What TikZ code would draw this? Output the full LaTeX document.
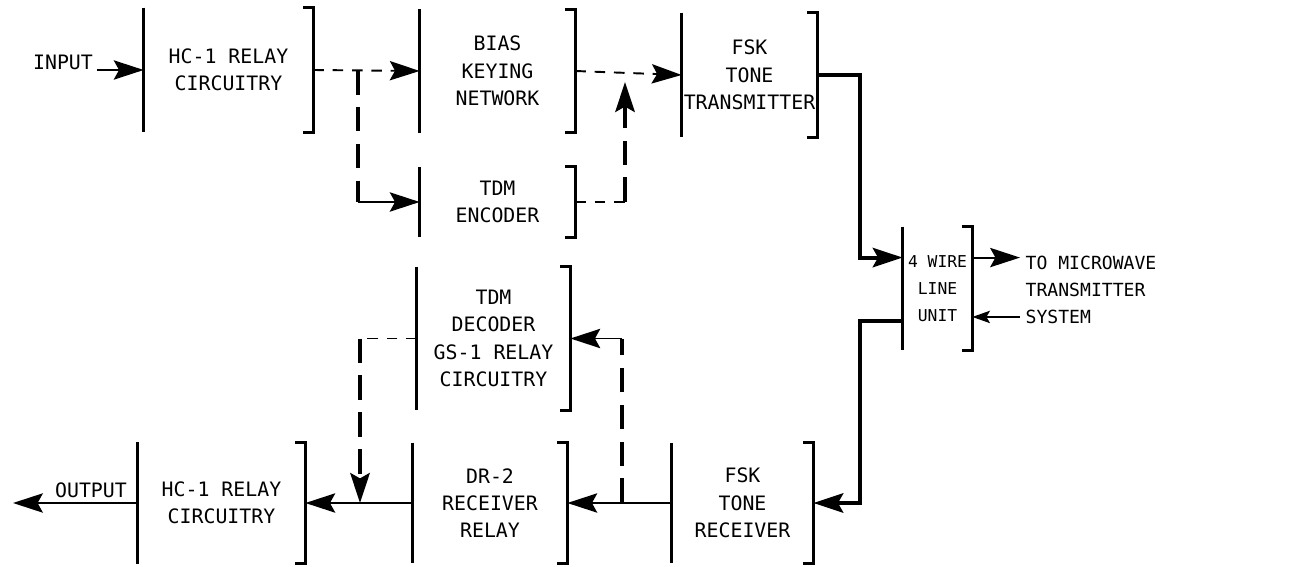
\documentclass[tikz,border=0pt]{standalone}
\usepackage{fontspec}
\setmainfont{DejaVu Sans Mono}
\usepackage{tikz}
\usetikzlibrary{arrows.meta, calc}

\tikzset{
  blk/.style 2 args={minimum width=#1*0.02cm, minimum height=#2*0.02cm, inner sep=0pt,
    align=center, font=\fontsize{11.3}{15.5}\selectfont},
  lbl/.style={inner sep=2pt, font=\fontsize{11.3}{15.5}\selectfont},
  boxline/.style={line width=1.7pt},
  flow/.style={line width=1.1pt, ->},
  tdash/.style={line width=1.1pt, dash pattern=on 6pt off 5pt},
  vdash/.style={line width=2.4pt, dash pattern=on 14pt off 7pt},
  trunk/.style={line width=2.2pt}
}

\begin{document}
\begin{tikzpicture}[x=0.02cm, y=-0.02cm, >={Stealth[length=17pt,width=11pt,inset=3pt]}]
    \useasboundingbox (0,0) rectangle (1297,567);

    % transmit side
    \node[blk={169}{124}] (inHC) at (228.5,70) {HC-1 RELAY\\CIRCUITRY};
    \node[blk={155}{123}] (bias) at (497.5,71) {BIAS\\KEYING\\NETWORK};
    \node[blk={155}{70}] (enc) at (497.5,202) {TDM\\ENCODER};
    \node[blk={135}{124}] (fsktx) at (749.5,75) {FSK\\TONE\\TRANSMITTER};

    % line unit
    \node[blk={69}{123}, font=\fontsize{9.3}{15.5}\selectfont] (wire) at (937.5,288.5) {4 WIRE\\LINE\\UNIT};

    % receive side
    \node[blk={153}{143}] (dec) at (493.5,338.5) {TDM\\DECODER\\GS-1 RELAY\\CIRCUITRY};
    \node[blk={154}{120}] (dr2) at (490,503) {DR-2\\RECEIVER\\RELAY};
    \node[blk={141}{120}] (fskrx) at (742.5,503) {FSK\\TONE\\RECEIVER};
    \node[blk={167}{121}] (outHC) at (221.5,503) {HC-1 RELAY\\CIRCUITRY};

    % brackets
    \foreach \b in {inHC,bias,enc,fsktx,wire,dec,dr2,fskrx,outHC}
        \draw[boxline] (\b.north west) -- (\b.south west)
            ([xshift=-5.7pt]\b.north east) -- (\b.north east) -- (\b.south east) -- ([xshift=-5.7pt]\b.south east);

    % labels
    \node[lbl] (input) at (63,62) {INPUT};
    \node[lbl] (output) at (91,490) {OUTPUT};
    \node[lbl, anchor=west, align=left, inner sep=3pt, font=\fontsize{10.3}{15.6}\selectfont] (mw) at (1020,290) {TO MICROWAVE\\TRANSMITTER\\SYSTEM};

    \coordinate (wireA) at ($(wire.north west)!0.25!(wire.south west)$);
    \coordinate (wireB) at ($(wire.north west)!0.76!(wire.south west)$);
    \coordinate (wireC) at ($(wire.north east)!0.25!(wire.south east)$);
    \coordinate (wireD) at ($(wire.north east)!0.73!(wire.south east)$);
    \coordinate (split1) at (358,70);
    \coordinate (join1) at (625,82);
    \coordinate (split2) at (622,503);
    \coordinate (split3) at (360,503);
    \coordinate (outEnd) at (13,503);

    % transmit paths
    \draw[flow] (input.east |- inHC.west) -- (inHC.west);
    \draw[flow, tdash] (inHC.east) -- (bias.west);
    \draw[vdash] (split1) -- (split1 |- enc.west);
    \draw[flow] (split1 |- enc.west) -- (enc.west);
    \draw[flow, tdash] (bias.east) -- (fsktx.west);
    \draw[tdash] (enc.east) -- (enc.east -| join1);
    \draw[vdash, ->] (enc.east -| join1) -- (join1);
    \draw[trunk, ->] (fsktx.east) -| ($(wireA)+(-43,0)$) -- (wireA);

    % microwave
    \draw[flow] (wireC) -- (mw.west |- wireC);
    \draw[line width=1.1pt, -{Stealth[length=10pt,width=7pt,inset=2pt]}] (mw.west |- wireD) -- (wireD);

    % receive paths
    \draw[trunk, ->] (wireB) -- ++(-43,0) |- (fskrx.east);
    \draw[flow] (fskrx.west) -- (dr2.east);
    \draw[vdash] (split2) -- (split2 |- dec.east);
    \draw[flow] (split2 |- dec.east) -- (dec.east);
    \draw[tdash] (dec.west) -- (dec.west -| split3);
    \draw[vdash, ->] (dec.west -| split3) -- (split3);
    \draw[flow] (dr2.west) -- (outHC.east);
    \draw[flow] (outHC.west) -- (outEnd);
\end{tikzpicture}
\end{document}
